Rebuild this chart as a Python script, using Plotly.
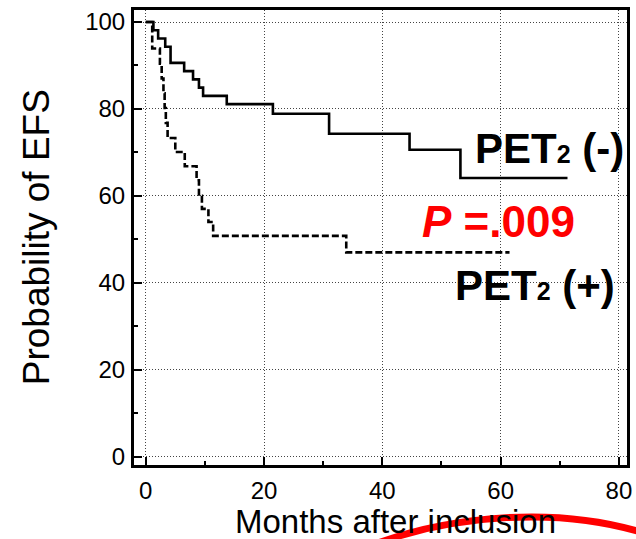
import plotly.graph_objects as go

# Kaplan-Meier event-free survival, step points (months, % EFS)
pet2_neg_months = [0, 1.3, 2.1, 3.3, 4.2, 6.5, 8.0, 9.0, 9.7, 13.7, 21.5, 31.0, 44.6, 53.2, 71.3]
pet2_neg_efs = [100, 98.1, 96.2, 94.3, 90.6, 88.7, 86.8, 84.9, 83.0, 81.1, 78.9, 74.3, 70.6, 64.1, 64.1]

pet2_pos_months = [0, 1.1, 2.4, 2.7, 3.0, 3.2, 3.4, 3.7, 5.0, 6.6, 8.6, 9.0, 9.5, 10.6, 11.4, 33.9, 61.5]
pet2_pos_efs = [100, 93.9, 90.4, 87.0, 83.6, 80.2, 76.8, 73.3, 70.1, 66.8, 63.6, 60.0, 57.0, 54.0, 50.8, 47.0, 47.0]

x_ticks = [0, 20, 40, 60, 80]
y_ticks = [0, 20, 40, 60, 80, 100]

FONT = "Liberation Sans, Arial, sans-serif"

fig = go.Figure()
fig.add_trace(go.Scatter(
    x=pet2_neg_months, y=pet2_neg_efs, mode="lines", line_shape="hv",
    line=dict(color="black", width=2.6), showlegend=False, hoverinfo="skip"))
fig.add_trace(go.Scatter(
    x=pet2_pos_months, y=pet2_pos_efs, mode="lines", line_shape="hv",
    line=dict(color="black", width=2.6, dash="7px,3px"), showlegend=False, hoverinfo="skip"))

axis_common = dict(
    showline=True, linecolor="black", linewidth=3, mirror=True,
    showgrid=True, gridcolor="#444", gridwidth=1, griddash="1px,2px",
    zeroline=False, ticks="inside", ticklen=8, tickwidth=1.5, tickcolor="black",
    tickfont=dict(family=FONT, size=24, color="black"),
    automargin=False,
)

fig.update_xaxes(
    range=[-1.98, 81.36], tickvals=x_ticks,
    minor=dict(tickvals=[10, 30, 50, 70], ticks="inside", ticklen=4, tickcolor="black", showgrid=False),
    ticklabelstandoff=2, **axis_common)
fig.update_yaxes(
    range=[-1.91, 102.76], tickvals=y_ticks,
    minor=dict(tickvals=[10, 30, 50, 70, 90], ticks="inside", ticklen=4, tickcolor="black", showgrid=False),
    ticklabelstandoff=1, **axis_common)

# axis titles
fig.add_annotation(x=0.5314, y=-0.1235, xref="paper", yref="paper", showarrow=False,
                   text="Months after inclusion", xanchor="center", yanchor="middle",
                   font=dict(family=FONT, size=33, color="black"))
fig.add_annotation(x=-0.1984, y=0.501, xref="paper", yref="paper", showarrow=False,
                   text="Probability of EFS", textangle=-90, xanchor="center", yanchor="middle",
                   font=dict(family=FONT, size=37, color="black"))

# curve labels and p-value
fig.add_annotation(x=68.2, y=71.0, xref="x", yref="y", showarrow=False,
                   text='<b>PET<span style="font-size:25px">2</span> (-)</b>',
                   font=dict(family=FONT, size=42, color="black"))
fig.add_annotation(x=59.7, y=54.1, xref="x", yref="y", showarrow=False,
                   text="<b><i>P</i> =.009</b>",
                   font=dict(family=FONT, size=44, color="#ff0000"))
fig.add_annotation(x=65.8, y=39.4, xref="x", yref="y", showarrow=False,
                   text='<b>PET<span style="font-size:25px">2</span> (+)</b>',
                   font=dict(family=FONT, size=42, color="black"))

# red hand-drawn arc across the lower edge
fig.add_shape(type="path", xref="paper", yref="paper", layer="above",
              path="M 0.4787,-0.1780 C 0.6410,-0.1099 0.8641,-0.0879 1.0467,-0.1538",
              line=dict(color="#ff0000", width=7))

fig.update_layout(
    width=636, height=539,
    margin=dict(l=134, r=9, t=10, b=74),
    paper_bgcolor="white", plot_bgcolor="white",
    font=dict(family=FONT, color="black"),
)

fig.write_html("out.html")
